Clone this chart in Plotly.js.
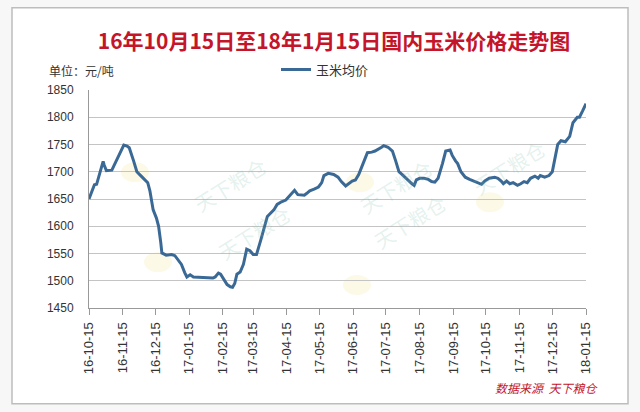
<!DOCTYPE html>
<html>
<head>
<meta charset="utf-8">
<script src="https://cdn.plot.ly/plotly-3.0.1.min.js"></script>
<style>
html,body{margin:0;padding:0;background:#f7f7f7;}
#chart{width:640px;height:412px;}
</style>
</head>
<body>
<div id="chart"></div>
<script>
// ---- data ----
const seriesName = "玉米均价";
const dates = [
"2016-10-15","2016-10-18","2016-10-20","2016-10-22","2016-10-25","2016-10-28","2016-10-29","2016-10-31",
"2016-11-05","2016-11-09","2016-11-13","2016-11-16","2016-11-19","2016-11-21","2016-11-25","2016-11-28",
"2016-12-02","2016-12-05","2016-12-08","2016-12-10","2016-12-13","2016-12-16","2016-12-18","2016-12-20",
"2016-12-21","2016-12-25","2016-12-30","2017-01-02","2017-01-05","2017-01-08","2017-01-11","2017-01-13",
"2017-01-16","2017-01-19","2017-01-28","2017-02-06","2017-02-08","2017-02-11","2017-02-13","2017-02-16",
"2017-02-19","2017-02-22","2017-02-24","2017-02-26","2017-02-28","2017-03-03","2017-03-06","2017-03-09",
"2017-03-12","2017-03-15","2017-03-18","2017-03-22","2017-03-25","2017-03-28","2017-03-30","2017-04-03",
"2017-04-06","2017-04-10","2017-04-14","2017-04-19","2017-04-22","2017-04-25","2017-05-01","2017-05-03",
"2017-05-06","2017-05-10","2017-05-14","2017-05-17","2017-05-19","2017-05-23","2017-05-28","2017-06-01",
"2017-06-04","2017-06-08","2017-06-11","2017-06-14","2017-06-17","2017-06-20","2017-06-24","2017-06-28",
"2017-07-02","2017-07-05","2017-07-11","2017-07-13","2017-07-17","2017-07-21","2017-07-24","2017-07-27",
"2017-07-31","2017-08-04","2017-08-08","2017-08-10","2017-08-12","2017-08-15","2017-08-19","2017-08-23",
"2017-08-26","2017-08-29","2017-09-01","2017-09-05","2017-09-08","2017-09-12","2017-09-14","2017-09-17",
"2017-09-19","2017-09-22","2017-09-26","2017-09-30","2017-10-04","2017-10-08","2017-10-11","2017-10-14",
"2017-10-18","2017-10-23","2017-10-26","2017-10-29","2017-10-31","2017-11-03","2017-11-06","2017-11-09",
"2017-11-13","2017-11-16","2017-11-19","2017-11-22","2017-11-25","2017-11-29","2017-12-02","2017-12-04",
"2017-12-08","2017-12-12","2017-12-15","2017-12-17","2017-12-20","2017-12-23","2017-12-27","2017-12-31",
"2018-01-03","2018-01-07","2018-01-09","2018-01-12","2018-01-15"
];
const prices = [
1650,1667,1676,1677,1700,1719,1712,1702,
1703,1720,1735,1749,1747,1744,1720,1700,
1692,1686,1680,1665,1630,1615,1600,1570,
1551,1547,1548,1546,1538,1530,1515,1507,
1511,1507,1506,1505,1507,1514,1512,1503,
1493,1489,1488,1495,1512,1516,1530,1558,
1555,1548,1548,1575,1595,1618,1622,1630,
1640,1645,1648,1660,1666,1658,1657,1660,
1665,1668,1672,1680,1693,1697,1695,1690,
1682,1674,1678,1683,1685,1695,1715,1735,
1736,1738,1745,1748,1745,1738,1720,1700,
1693,1685,1678,1675,1685,1688,1688,1686,
1682,1681,1688,1715,1738,1740,1730,1720,
1715,1700,1690,1686,1683,1680,1677,1683,
1688,1690,1688,1683,1678,1683,1678,1680,
1675,1678,1682,1680,1688,1692,1688,1693,
1690,1693,1700,1720,1750,1757,1755,1765,
1790,1800,1800,1812,1825
];
const tickDates = ["2016-10-15","2016-11-15","2016-12-15","2017-01-15","2017-02-15","2017-03-15","2017-04-15","2017-05-15","2017-06-15","2017-07-15","2017-08-15","2017-09-15","2017-10-15","2017-11-15","2017-12-15","2018-01-15"];
const tickLabels = ["16-10-15","16-11-15","16-12-15","17-01-15","17-02-15","17-03-15","17-04-15","17-05-15","17-06-15","17-07-15","17-08-15","17-09-15","17-10-15","17-11-15","17-12-15","18-01-15"];
const titleText = "16年10月15日至18年1月15日国内玉米价格走势图";
const unitText = "单位：元/吨";
const sourceText = "数据来源  天下粮仓";
const watermarkText = "天下粮仓";

// plot area in pixels: x 89..586, y 89.5..308
const L = 89, R = 640-586, T = 89.5, B = 412-308;
const pw = 640 - L - R, ph = 412 - T - B;
const px = v => (v - L) / pw;          // pixel x -> paper x
const py = v => (412 - B - v) / ph;    // pixel y -> paper y

const trace = {
  type: "scatter", mode: "lines", name: seriesName,
  x: dates, y: prices,
  line: {color: "#3b6996", width: 3},
  hoverinfo: "skip"
};

// faint watermark logos (decoration): [ovalX, ovalY, textX, textY] in pixels
const marks = [[135,172,186,148],[158,262,210,232],[357,285,410,258],[360,182,396,150],[490,202,553,167]];
const wmShapes = [], wmAnn = [];
marks.forEach(m => {
  wmShapes.push({type:"circle", xref:"paper", yref:"paper", layer:"below",
    x0:px(m[0]-14), x1:px(m[0]+14), y0:py(m[1]+10), y1:py(m[1]-10),
    line:{width:0}, fillcolor:"rgba(245,220,120,0.18)"});
  wmAnn.push({text:watermarkText, xref:"paper", yref:"paper", x:px(m[2]), y:py(m[3]),
    showarrow:false, textangle:-32,
    font:{family:"'Noto Sans CJK SC', sans-serif", size:20, color:"rgba(120,190,160,0.2)"}});
});

const layout = {
  width: 640, height: 412,
  margin: {l: L, r: R, t: T, b: B},
  paper_bgcolor: "rgba(0,0,0,0)",
  plot_bgcolor: "rgba(0,0,0,0)",
  font: {family: "Liberation Sans, Arial, 'Noto Sans CJK SC', sans-serif", size: 12, color: "#333333"},
  title: {
    text: "<b>" + titleText + "</b>",
    font: {family: "'Noto Sans CJK SC', sans-serif", size: 21, color: "#c4152a"},
    x: 334/640, xanchor: "center", xref: "container",
    y: 1 - 42/412, yanchor: "middle", yref: "container"
  },
  showlegend: true,
  legend: {
    orientation: "h", x: px(276), xanchor: "left", y: py(69), yanchor: "middle",
    bgcolor: "rgba(0,0,0,0)", itemwidth: 30,
    font: {family: "'Noto Sans CJK SC', sans-serif", size: 13, color: "#333333"}
  },
  xaxis: {
    type: "date",
    range: ["2016-10-15", "2018-01-15"],
    tickmode: "array", tickvals: tickDates, ticktext: tickLabels,
    tickangle: -90,
    ticks: "outside", ticklen: 6, tickcolor: "#999999",
    showgrid: false, zeroline: false,
    showline: true, linecolor: "#999999", linewidth: 1,
    ticklabelstandoff: 2,
    tickfont: {family: "Liberation Sans, Arial, sans-serif", size: 13, color: "#333333"}
  },
  yaxis: {
    range: [1450, 1850], dtick: 50, tick0: 1450,
    showgrid: true, gridcolor: "#c4c4c4", gridwidth: 1,
    zeroline: false,
    showline: true, linecolor: "#999999", linewidth: 1,
    ticks: "", ticklabelstandoff: 12,
    tickfont: {family: "Liberation Sans, Arial, sans-serif", size: 12, color: "#333333"}
  },
  shapes: [
    {type: "rect", xref: "paper", yref: "paper", layer: "below",
     x0: px(12), x1: px(628), y0: py(404), y1: py(7),
     line: {color: "#bdbdbd", width: 1.5}, fillcolor: "#ffffff"}
  ].concat(wmShapes),
  annotations: [
    {text: unitText, xref: "paper", yref: "paper", x: px(47), y: py(70),
     xanchor: "left", yanchor: "middle", showarrow: false,
     font: {family: "'Noto Sans CJK SC', sans-serif", size: 12, color: "#333333"}},
    {text: "<i>" + sourceText + "</i>", xref: "paper", yref: "paper", x: px(600), y: py(388),
     xanchor: "right", yanchor: "middle", showarrow: false,
     font: {family: "'Noto Sans CJK SC', sans-serif", size: 12, color: "#c4152a"}}
  ].concat(wmAnn)
};

Plotly.newPlot("chart", [trace], layout, {displayModeBar: false, staticPlot: true});
</script>
</body>
</html>
